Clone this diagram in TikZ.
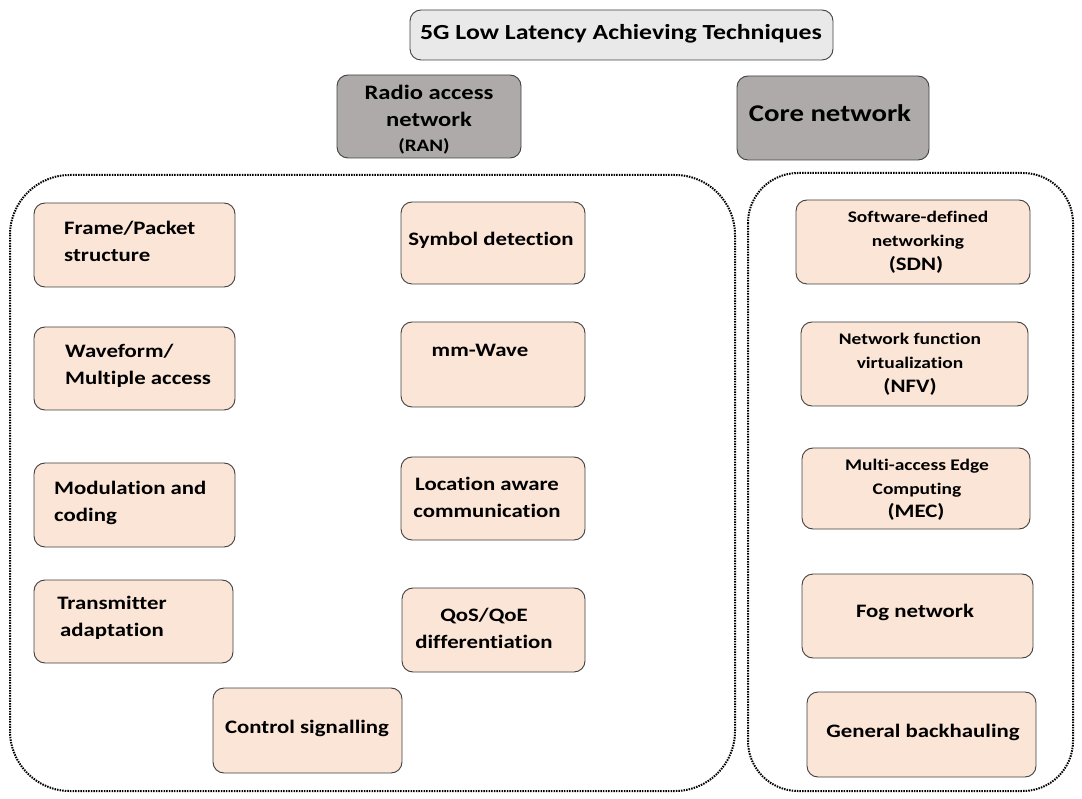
\documentclass[tikz,border=0pt]{standalone}
\usepackage{fontspec}
\setmainfont{Carlito}[FakeStretch=1.2, Ligatures=NoCommon]
\definecolor{peach}{HTML}{FBE5D6}
\definecolor{edge}{HTML}{404040}
\definecolor{headgray}{HTML}{AEAAAA}
\definecolor{titlegray}{HTML}{E9E9E9}
\begin{document}
\begin{tikzpicture}[x=1pt,y=-1pt,
  every node/.style={font=\bfseries},
  box/.style={draw=edge, line width=0.9pt, rounded corners=11pt, inner sep=0pt},
  itembox/.style={box, fill=peach},
  txt/.style={inner sep=0pt, font=\bfseries\fontsize{19}{27}\selectfont},
  smalltxt/.style={inner sep=0pt, font=\bfseries\fontsize{16.2}{24}\selectfont},
  group/.style={draw=black, line width=2pt, dash pattern=on 1.5pt off 1.1pt}]
\useasboundingbox (0,0) rectangle (1082,799);

% dotted groups
\draw[group, rounded corners=60pt] (10,175) rectangle (735,791);
\draw[group, rounded corners=50pt] (748,173) rectangle (1073,791);

% headings
\node[box, fill=titlegray, minimum width=423pt, minimum height=50pt] (title) at (621.5,35) {};
\node[txt, font=\bfseries\fontsize{21.5}{24}\selectfont] (titlet) at (621,34) {5G Low Latency Achieving Techniques};

\node[box, fill=headgray, minimum width=184pt, minimum height=83pt] (ran) at (429,116.5) {};
\node[txt, align=center, font=\bfseries\fontsize{20.5}{27}\selectfont] (rant) at (429,105.5) {Radio access\\network};
\node[txt, font=\bfseries\fontsize{17.5}{20}\selectfont] (ranab) at (424,146) {(RAN)};

\node[box, fill=headgray, minimum width=192pt, minimum height=84pt] (core) at (833,118) {};
\node[txt, font=\bfseries\fontsize{24}{30}\selectfont] (coret) at (830,113) {Core network};

% radio access network techniques
\node[itembox, minimum width=201pt, minimum height=84pt] (fp) at (134.5,245) {};
\node[txt, align=left, anchor=west] (fpt) at (64,241) {Frame/Packet\\structure};

\node[itembox, minimum width=201pt, minimum height=83pt] (wf) at (134.5,368.5) {};
\node[txt, align=left, anchor=west] (wft) at (65,366) {Waveform/\\Multiple access};

\node[itembox, minimum width=201pt, minimum height=84pt] (mc) at (134.5,505) {};
\node[txt, align=left, anchor=west] (mct) at (54,503) {Modulation and\\coding};

\node[itembox, minimum width=199pt, minimum height=83pt] (ta) at (133.5,621.5) {};
\node[txt, align=center] (tat) at (112,618) {Transmitter\\adaptation};

\node[itembox, minimum width=184pt, minimum height=82pt] (sd) at (493,243) {};
\node[txt] (sdt) at (491,240) {Symbol detection};

\node[itembox, minimum width=184pt, minimum height=85pt] (mw) at (493,364.5) {};
\node[txt] (mwt) at (480,350) {mm-Wave};

\node[itembox, minimum width=184pt, minimum height=83pt] (la) at (493,498.5) {};
\node[txt, align=center] (lat) at (487,497.5) {Location aware\\communication};

\node[itembox, minimum width=183pt, minimum height=84pt] (qs) at (493.5,630) {};
\node[txt, align=center] (qst) at (484,628) {QoS/QoE\\differentiation};

\node[itembox, minimum width=189pt, minimum height=85pt] (cs) at (307.5,730.5) {};
\node[txt] (cst) at (307,728) {Control signalling};

% core network techniques
\node[itembox, minimum width=234pt, minimum height=84pt] (sdn) at (913,242) {};
\node[smalltxt, align=center] (sdnt) at (918,230) {Software-defined\\networking};
\node[txt] (sdnab) at (916,265) {(SDN)};

\node[itembox, minimum width=227pt, minimum height=84pt] (nfv) at (914.5,364) {};
\node[smalltxt, align=center] (nfvt) at (910,350.5) {Network function\\virtualization};
\node[txt] (nfvab) at (910,387) {(NFV)};

\node[itembox, minimum width=228pt, minimum height=81pt] (mec) at (916,488.5) {};
\node[smalltxt, align=center] (mect) at (917,478) {Multi-access Edge\\Computing};
\node[txt] (mecab) at (916,512) {(MEC)};

\node[itembox, minimum width=231pt, minimum height=84pt] (fog) at (917.5,616) {};
\node[txt] (fogt) at (915,612) {Fog network};

\node[itembox, minimum width=229pt, minimum height=85pt] (gb) at (921.5,734.5) {};
\node[txt] (gbt) at (923,732) {General backhauling};
\end{tikzpicture}
\end{document}
